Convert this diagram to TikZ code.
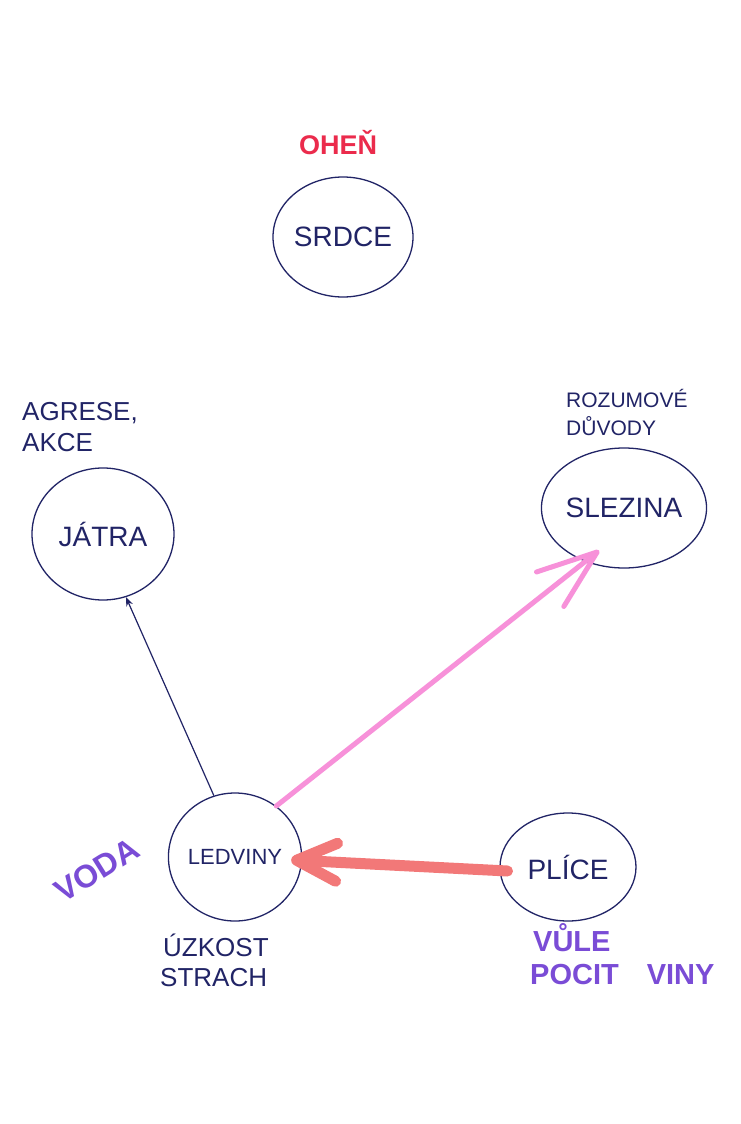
\documentclass[tikz,border=0pt]{standalone}
\usepackage{fontspec}
\setmainfont{Liberation Sans}
\usetikzlibrary{arrows.meta,positioning,shapes.geometric}
\definecolor{ink}{rgb}{0.13, 0.14, 0.40}
\definecolor{fire}{rgb}{0.92, 0.17, 0.30}
\definecolor{lilac}{rgb}{0.48, 0.30, 0.84}
\definecolor{rosy}{rgb}{0.97, 0.57, 0.85}
\definecolor{salmon}{rgb}{0.95, 0.47, 0.47}

\begin{document}
\begin{tikzpicture}[x=1pt, y=-1pt, >=Stealth]
	% ------------------------------------------------------------------
	% PAGE
	% ------------------------------------------------------------------
	\useasboundingbox[fill=white] (0,0) rectangle (741,1124);

	% ------------------------------------------------------------------
	% STYLE DEFINITIONS
	% ------------------------------------------------------------------
	\tikzset{
		organ/.style  = {ellipse, draw=ink, line width=1.3pt, inner sep=0pt, text=ink,
		                 font=\fontsize{28}{32}\selectfont},
		note/.style   = {text=ink, align=left, inner sep=0pt, font=\fontsize{26}{30}\selectfont},
		marker/.style = {text=lilac, align=left, inner sep=0pt, font=\bfseries\fontsize{29}{32}\selectfont},
		vink/.style   = {line width=1.2pt, ink, -{Stealth[length=9pt, width=7pt]}},
		vrosy/.style  = {line width=5pt, rosy, line cap=round,
		                 -{Straight Barb[length=60pt, width=44pt, round]}},
		vsalmon/.style= {line width=11pt, salmon, line cap=round,
		                 -{Straight Barb[length=40pt, width=38pt, round]}},
	}

	% ------------------------------------------------------------------
	% ORGANS
	% ------------------------------------------------------------------
	\node[organ, minimum width=140pt, minimum height=120pt] (srdce)   at (343,237) {SRDCE};
	\node[organ, minimum width=142pt, minimum height=132pt] (jatra)   at (103,534) {JÁTRA};
	\node[organ, minimum width=152pt, minimum height=120pt] (slezina) at (624,508) {SLEZINA};
	\node[organ, minimum width=126pt, minimum height=128pt,
	      font=\fontsize{22}{26}\selectfont]                 (ledviny) at (235,857) {LEDVINY};
	\node[organ, minimum width=136pt, minimum height=108pt] (plice)   at (568,867) {PLÍCE};

	% ------------------------------------------------------------------
	% NOTES
	% ------------------------------------------------------------------
	\node[text=fire, inner sep=0pt, font=\bfseries\fontsize{27}{30}\selectfont] (ohen) at (338,143) {OHEŇ};
	\node[note, anchor=west] (agrese) at (22,413) {AGRESE,};
	\node[note, anchor=west] (akce)   at (22,443) {AKCE};
	\node[note, anchor=west, font=\fontsize{21}{26}\selectfont] (rozum)  at (566,398) {ROZUMOVÉ};
	\node[note, anchor=west, font=\fontsize{21}{26}\selectfont] (duvody) at (566,426) {DŮVODY};
	\node[note, anchor=west] (uzkost) at (163,945) {ÚZKOST};
	\node[note, anchor=west] (strach) at (160,978) {STRACH};
	\node[marker, rotate=32, font=\bfseries\fontsize{32}{35}\selectfont] (voda) at (97,870) {VODA};
	\node[marker, anchor=west] (vule)  at (533,938) {VŮLE};
	\node[marker, anchor=west] (pocit) at (530,975) {POCIT\hspace{28pt}VINY};

	% ------------------------------------------------------------------
	% ARROWS
	% ------------------------------------------------------------------
	\draw[vink]    (ledviny.109) -- (jatra.290);
	\draw[vrosy, shorten >=-18pt]   (ledviny.51) -- (slezina.234);
	\draw[vsalmon, shorten >=-11pt, shorten <=-8pt] (plice.183) -- (ledviny.357);

\end{tikzpicture}
\end{document}
